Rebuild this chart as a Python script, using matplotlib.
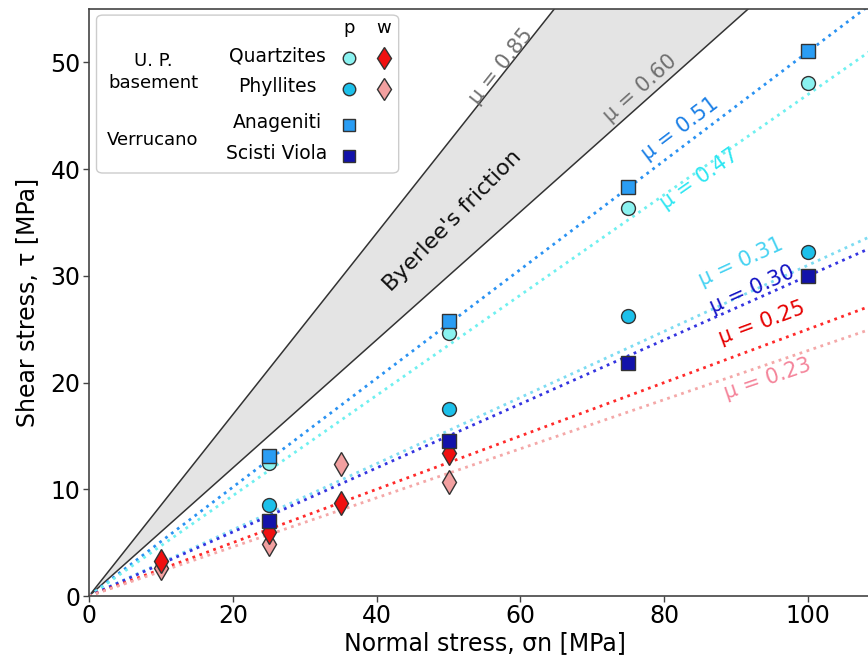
import numpy as np
import matplotlib
matplotlib.use("Agg")
import matplotlib.pyplot as plt
from matplotlib.patches import FancyBboxPatch

# data
quartz_p_x = [25, 50, 75, 100]
quartz_p_y = [12.5, 24.6, 36.4, 48.1]
phyll_p_x = [25, 50, 75, 100]
phyll_p_y = [8.5, 17.5, 26.2, 32.2]
anag_x = [25, 50, 75, 100]
anag_y = [13.1, 25.8, 38.3, 51.1]
scisti_x = [25, 50, 75, 100]
scisti_y = [7.0, 14.5, 21.8, 30.0]
quartz_w_x = [10, 25, 35, 50]
quartz_w_y = [3.3, 6.0, 8.7, 13.4]
phyll_w_x = [10, 25, 35, 50]
phyll_w_y = [2.6, 4.9, 12.4, 10.7]

# fitted friction coefficients
fit_mu = [0.51, 0.47, 0.31, 0.30, 0.25, 0.23]
fit_line_col = ['#2a92f2', '#6ff0f0', '#7ddcf2', '#3434e0', '#ff2a2a', '#f4a8a8']
fit_text_col = ['#1a7fe6', '#2de6f2', '#45d2f2', '#1212c4', '#e60000', '#f4849a']
fit_label_xy = [(82.2, 43.8), (84.9, 39.1), (90.7, 31.3), (92.2, 28.7), (93.6, 25.6), (94.3, 20.3)]

byerlee_mu = [0.85, 0.60]
byerlee_label_xy = [(57.3, 49.6), (76.6, 47.6)]

fig = plt.figure(figsize=(8.68, 6.59), dpi=100)
ax = fig.add_axes([89 / 868, 63 / 659, 791 / 868, 587 / 659])
ax.set_xlim(0, 110)
ax.set_ylim(0, 55)

xx = np.array([0, 110])

# Byerlee wedge
ax.fill_between(xx, byerlee_mu[1] * xx, byerlee_mu[0] * xx, color='#e4e4e4', zorder=1, lw=0)
for mu, (tx, ty) in zip(byerlee_mu, byerlee_label_xy):
    ax.plot(xx, mu * xx, color='#333333', lw=1.1, zorder=2)
    ax.text(tx, ty, 'μ = %.2f' % mu, color='#707070', fontsize=15,
            rotation=np.degrees(np.arctan(mu)), transform_rotates_text=True,
            rotation_mode='anchor', ha='center', va='center', zorder=4)
ax.text(50.6, 35.2, "Byerlee's friction", fontsize=16, color='#111111',
        rotation=np.degrees(np.arctan(0.69)), transform_rotates_text=True,
        rotation_mode='anchor', ha='center', va='center', zorder=4)

# fitted lines
for mu, lc, tc, (tx, ty) in zip(fit_mu, fit_line_col, fit_text_col, fit_label_xy):
    ax.plot(xx, mu * xx, ls=':', color=lc, lw=2, zorder=2)
    ax.text(tx, ty, 'μ = %.2f' % mu, color=tc, fontsize=15,
            rotation=np.degrees(np.arctan(mu)), transform_rotates_text=True,
            rotation_mode='anchor', ha='center', va='center', zorder=4)

ec = '#333333'
styles = {
    'qp': dict(marker='o', color='#8af2f0', ms=10),
    'pp': dict(marker='o', color='#1cc0ea', ms=10),
    'an': dict(marker='s', color='#2a9df4', ms=10),
    'sv': dict(marker='s', color='#1212aa', ms=10),
    'qw': dict(marker='d', color='#f01010', ms=12.5),
    'pw': dict(marker='d', color='#f2a0a0', ms=12.5),
}

def dots(x, y, st, **kw):
    ax.plot(x, y, ls='none', marker=st['marker'], ms=st['ms'], mfc=st['color'],
            mec=ec, mew=1, **kw)

dots(phyll_w_x, phyll_w_y, styles['pw'], zorder=3)
dots(quartz_w_x, quartz_w_y, styles['qw'], zorder=3)
dots(quartz_p_x, quartz_p_y, styles['qp'], zorder=3)
dots(phyll_p_x, phyll_p_y, styles['pp'], zorder=3)
dots(scisti_x, scisti_y, styles['sv'], zorder=3)
dots(anag_x, anag_y, styles['an'], zorder=3)

# hand-made legend box
tA = ax.transAxes
box = FancyBboxPatch((0.0095, 0.7206), 0.382, 0.269, boxstyle='round,pad=0,rounding_size=0.008',
                     transform=tA, fc='white', ec='#cccccc', lw=1, zorder=5)
ax.add_patch(box)
px, wx = 0.3287, 0.373
ax.text(px, 0.9676, 'p', transform=tA, fontsize=13, ha='center', va='center', zorder=6)
ax.text(wx, 0.9676, 'w', transform=tA, fontsize=13, ha='center', va='center', zorder=6)
rows = [('Quartzites', 0.9165, 'qp', 'qw'), ('Phyllites', 0.8637, 'pp', 'pw'),
        ('Anageniti', 0.8024, 'an', None), ('Scisti Viola', 0.7496, 'sv', None)]
for name, y, kp, kw_ in rows:
    ax.text(0.2377, y + 0.004, name, transform=tA, fontsize=13.5, ha='center', va='center', zorder=6)
    st = styles[kp]
    ax.plot([px], [y], transform=tA, ls='none', marker=st['marker'], ms=st['ms'] - 1,
            mfc=st['color'], mec=ec, mew=1, zorder=6, clip_on=False)
    if kw_:
        st = styles[kw_]
        ax.plot([wx], [y], transform=tA, ls='none', marker=st['marker'], ms=st['ms'] - 1,
                mfc=st['color'], mec=ec, mew=1, zorder=6, clip_on=False)
ax.text(0.0809, 0.8927, 'U. P.\nbasement', transform=tA, fontsize=13, ha='center',
        va='center', linespacing=1.3, zorder=6)
ax.text(0.0809, 0.7768, 'Verrucano', transform=tA, fontsize=13, ha='center', va='center', zorder=6)

ax.set_xticks([0, 20, 40, 60, 80, 100])
ax.set_yticks([0, 10, 20, 30, 40, 50])
ax.tick_params(labelsize=17, length=4, width=1, color='#444444', pad=2)
ax.set_xlabel('Normal stress, σn [MPa]', fontsize=17, labelpad=2)
ax.set_ylabel('Shear stress, τ [MPa]', fontsize=17, labelpad=8)
for s in ax.spines.values():
    s.set_color('#444444')
    s.set_linewidth(1.2)

fig.savefig('out.png', dpi=100)
